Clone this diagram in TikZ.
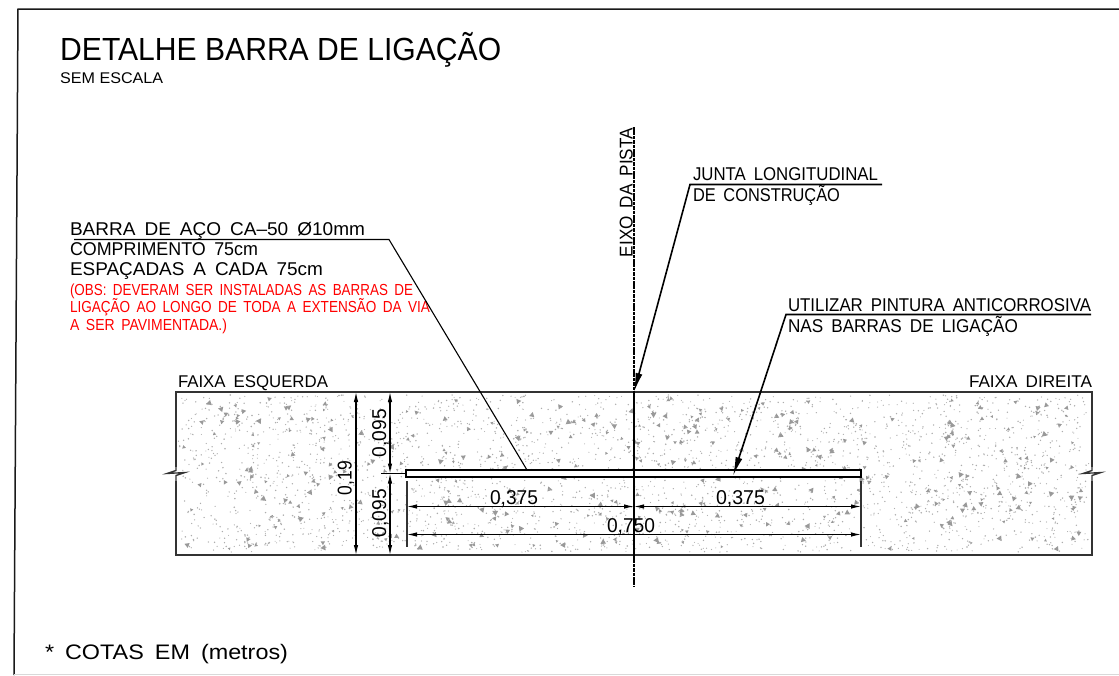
\documentclass[tikz,border=0pt]{standalone}
\usepackage{fontspec}
\usepackage{graphicx}
\setmainfont[WordSpace=1.7]{Liberation Sans}
\newfontfamily\plainsans{Liberation Sans}
\usetikzlibrary{arrows.meta,calc}
\definecolor{speck}{gray}{0.6}
\definecolor{dotc}{gray}{0.68}
\definecolor{edge}{gray}{0.2}
\newlength\fitlen
\newcommand\fitted[2]{\settowidth\fitlen{#2}\pgfmathsetmacro\fitx{#1/\fitlen}\scalebox{\fitx}[1]{#2}}
\tikzset{
  lab/.style={anchor=base west,inner sep=0pt,outer sep=0pt,font=\fontsize{18.5}{21}\selectfont,text=black},
  redlab/.style={lab,font=\fontsize{16}{18}\selectfont,text=red},
  dimlab/.style={lab,font=\fontsize{20}{22}\selectfont},
  faixa/.style={lab,font=\fontsize{17}{20}\selectfont},
  leader/.style={draw=black,line width=1.1pt},
  dimline/.style={draw=black,line width=1.1pt,{Latex[length=10pt,width=4.5pt]}-{Latex[length=10pt,width=4.5pt]}},
  extline/.style={draw=black!80,line width=1.1pt},
  arrowleader/.style={draw=black,line width=1.6pt,-{Latex[length=19pt,width=7pt]}},
  box/.style={draw=edge,inner sep=0pt,outer sep=0pt,rectangle},
}
\begin{document}
\begin{tikzpicture}[x=1pt,y=-1pt]
\useasboundingbox (0,0) rectangle (1119,675);
\fill[white] (0,0) rectangle (1119,675);
% sheet frame
\coordinate (f1) at (14,675); \coordinate (f2) at (18,9); \coordinate (f3) at (1119,9);
\draw[line width=1.5pt,black!90] (f1) -- (f2) -- (f3);
\coordinate (f4) at (14,674); \coordinate (f5) at (1119,674);
\draw[line width=0.7pt,black!15] (f4) -- (f5);
% title
\node[anchor=base west,inner sep=0pt,font=\plainsans\fontsize{32}{34}\selectfont] (title) at (60,60.5) {\fitted{441}{DETALHE BARRA DE LIGAÇÃO}};
\node[anchor=base west,inner sep=0pt,font=\plainsans\fontsize{15.5}{17}\selectfont] (scale) at (60,83) {\fitted{103}{SEM ESCALA}};
% slab
\node[box,line width=1.2pt,fill=white,minimum width=916pt,minimum height=163pt] (slab) at (634,473.5) {};
\pgfmathsetseed{4711}
\foreach \i in {1,...,2400}{
  \pgfmathsetmacro\px{179+910*rnd}
  \pgfmathsetmacro\py{395+157*rnd}
  \pgfmathsetmacro\ps{0.5+0.35*rnd}
  \fill[dotc] (\px,\py) circle[radius=\ps pt];
}
\foreach \i in {1,...,380}{
  \pgfmathsetmacro\px{182+904*rnd}
  \pgfmathsetmacro\py{398+151*rnd}
  \pgfmathsetmacro\pa{360*rnd}
  \pgfmathsetmacro\ps{1.5+1.9*rnd}
  \fill[speck] ($(\px,\py)+(\pa:\ps pt)$) -- ($(\px,\py)+(\pa+120:\ps pt)$) -- ($(\px,\py)+(\pa+240:\ps pt)$) -- cycle;
  \pgfmathsetmacro\qx{\px+10*rnd-5}
  \pgfmathsetmacro\qy{max(395,min(552,\py+10*rnd-5))}
  \fill[dotc] (\qx,\qy) circle[radius=0.8pt];
  \pgfmathsetmacro\qx{\px+14*rnd-7}
  \pgfmathsetmacro\qy{max(395,min(552,\py+14*rnd-7))}
  \fill[dotc] (\qx,\qy) circle[radius=0.7pt];
}
\draw[draw=edge,line width=1.3pt] (slab.north west) rectangle (slab.south east);
% break marks
\fill[white] (172,467) rectangle (180,481);
\fill[white] (1088,467) rectangle (1096,481);
\coordinate (bl1) at (176,466); \coordinate (bl2) at (176,470.5); \coordinate (bl3) at (167,473.5); \coordinate (bl4) at (185,472.5); \coordinate (bl5) at (176,475.5); \coordinate (bl6) at (176,482);
\draw[line width=1.3pt,draw=edge,line join=miter] (bl1) -- (bl2) -- (bl3) -- (bl4) -- (bl5) -- (bl6);
\coordinate (br1) at (1092,466); \coordinate (br2) at (1092,470.5); \coordinate (br3) at (1083,473.5); \coordinate (br4) at (1101,472.5); \coordinate (br5) at (1092,475.5); \coordinate (br6) at (1092,482);
\draw[line width=1.3pt,draw=edge,line join=miter] (br1) -- (br2) -- (br3) -- (br4) -- (br5) -- (br6);
% bar
\node[box,draw=black,line width=1.6pt,fill=white,minimum width=454.5pt,minimum height=7.5pt] (bar) at (633.5,473.5) {};
% centre line
\coordinate (c1) at (634,127); \coordinate (c2) at (634,392); \coordinate (c3) at (634,555); \coordinate (c4) at (634,587);
\draw[line width=1.5pt,dash pattern=on 3.5pt off 0.9pt] (c1) -- (c2);
\draw[line width=1.8pt] (c2) -- (c3);
\draw[line width=1.5pt,dash pattern=on 3.5pt off 0.9pt] (c3) -- (c4);
\node[lab,rotate=90] (eixo) at (632.5,257) {\fitted{129}{EIXO DA PISTA}};
% vertical dimensions
\coordinate (v0t) at (356,392); \coordinate (v0b) at (356,555);
\coordinate (v1t) at (390,392); \coordinate (v1m) at (390,473.5); \coordinate (v1b) at (390,555);
\draw[dimline] (v0t) -- (v0b);
\draw[dimline] (v1t) -- (v1m);
\draw[dimline] (v1m) -- (v1b);
\coordinate (tk1) at (381,473.5);
\draw[extline,black] (tk1) -- (bar.west);
\node[dimlab,rotate=90] (d19) at (351.5,495) {\fitted{34}{0,19}};
\node[dimlab,rotate=90] (d95a) at (386,457) {\fitted{48}{0,095}};
\node[dimlab,rotate=90] (d95b) at (386,537) {\fitted{48}{0,095}};
% horizontal dimensions
\coordinate (e1t) at (407,481); \coordinate (e1b) at (407,547);
\coordinate (e2t) at (861,481); \coordinate (e2b) at (861,547);
\draw[extline] (e1t) -- (e1b);
\draw[extline] (e2t) -- (e2b);
\coordinate (h1l) at (407,506.5); \coordinate (h1m) at (634,506.5); \coordinate (h1r) at (861,506.5);
\coordinate (h2l) at (407,534.5); \coordinate (h2r) at (861,534.5);
\draw[dimline] (h1l) -- (h1m);
\draw[dimline] (h1m) -- (h1r);
\draw[dimline] (h2l) -- (h2r);
\node[dimlab] (d375a) at (490,504) {\fitted{48}{0,375}};
\node[dimlab] (d375b) at (716,504) {\fitted{49}{0,375}};
\node[dimlab] (d750) at (607,532) {\fitted{48}{0,750}};
% lane names
\node[faixa] (fe) at (178,387) {\fitted{150}{FAIXA ESQUERDA}};
\node[faixa] (fd) at (969,387) {\fitted{123}{FAIXA DIREITA}};
% bar note
\node[lab] (n1) at (70,235) {\fitted{295}{BARRA DE AÇO CA–50 Ø10mm}};
\node[lab] (n2) at (70,255) {\fitted{188}{COMPRIMENTO 75cm}};
\node[lab] (n3) at (70,275) {\fitted{253}{ESPAÇADAS A CADA 75cm}};
\node[redlab] (n4) at (70,295) {\fitted{343}{(OBS: DEVERAM SER INSTALADAS AS BARRAS DE}};
\node[redlab] (n5) at (70,312.5) {\fitted{360}{LIGAÇÃO AO LONGO DE TODA A EXTENSÃO DA VIA}};
\node[redlab] (n6) at (70,330.5) {\fitted{157}{A SER PAVIMENTADA.)}};
\coordinate (l1a) at (74,239.5); \coordinate (l1b) at (389,239.5); \coordinate (l1c) at (527,470);
\draw[leader] (l1a) -- (l1b) -- (l1c);
% joint note
\node[lab] (j1) at (693,180) {\fitted{185}{JUNTA LONGITUDINAL}};
\node[lab] (j2) at (693,201) {\fitted{147}{DE CONSTRUÇÃO}};
\coordinate (j0) at (882,184.5); \coordinate (ja) at (690,184.5);
\draw[arrowleader] (j0) -- (ja) -- (c2);
% paint note
\node[lab] (p1) at (788,311) {\fitted{303}{UTILIZAR PINTURA ANTICORROSIVA}};
\node[lab] (p2) at (788,332) {\fitted{230}{NAS BARRAS DE LIGAÇÃO}};
\coordinate (p0) at (1091,314.5); \coordinate (pa) at (786,314.5); \coordinate (pb) at (733,476);
\draw[arrowleader] (p0) -- (pa) -- (pb);
% units
\node[lab,font=\fontsize{21}{23}\selectfont] (cot) at (45,659.5) {\fitted{243}{* COTAS EM (metros)}};
\end{tikzpicture}
\end{document}
